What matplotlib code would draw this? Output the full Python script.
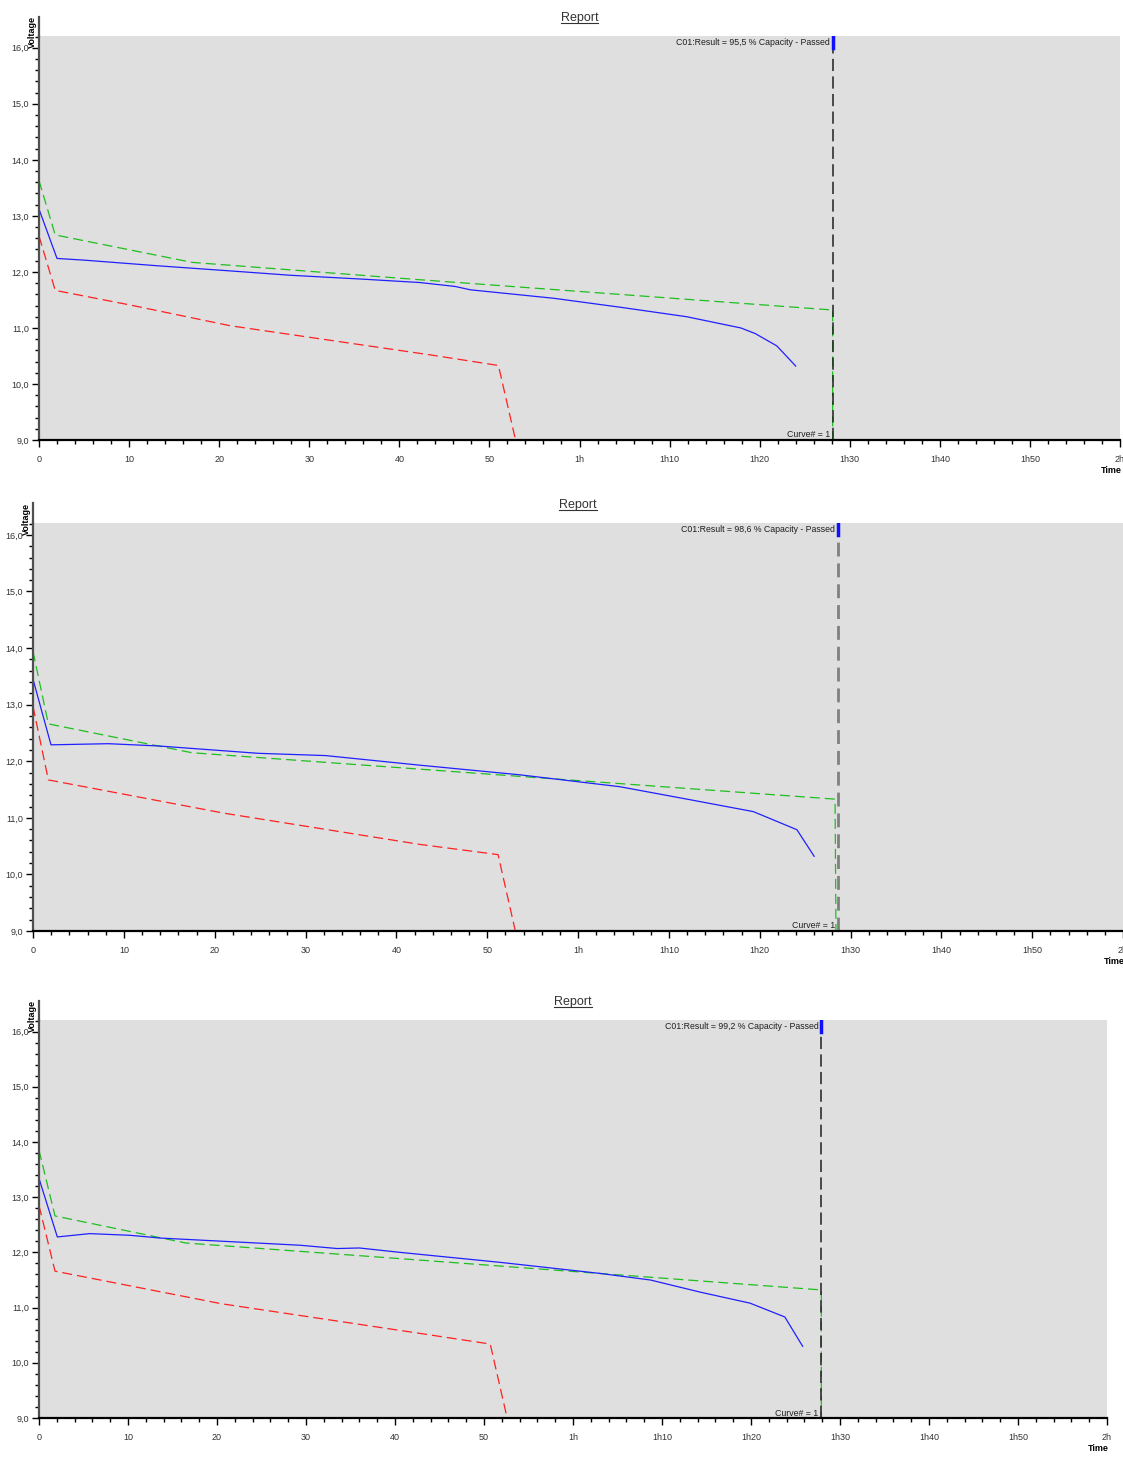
import numpy as np
import matplotlib
matplotlib.use("Agg")
import matplotlib.pyplot as plt
from matplotlib.lines import Line2D
from matplotlib.ticker import MultipleLocator, FuncFormatter

plt.rcParams['font.family'] = ['Liberation Sans', 'DejaVu Sans']

# panel 1
p1_t_blue = [0, 2.0, 5, 13.1, 21.9, 27.9, 36, 42.3, 46.2, 47.9, 57.1, 64.5, 71.9, 77.9, 79.5, 81.9, 84.0]
p1_v_blue = [13.12, 12.24, 12.21, 12.11, 12.01, 11.94, 11.87, 11.81, 11.74, 11.68, 11.53, 11.37, 11.20, 11.0, 10.90, 10.68, 10.32]
p1_t_green = [0, 1.8, 17, 42.3, 88.1, 88.1]
p1_v_green = [13.63, 12.66, 12.17, 11.86, 11.32, 9.0]
p1_t_red = [0, 1.8, 10.1, 21.2, 43.4, 51.0, 52.9]
p1_v_red = [12.64, 11.67, 11.41, 11.04, 10.52, 10.33, 9.0]
p1_end = 88.1
p1_result = "95,5"

# panel 2
p2_t_blue = [0, 1.98, 8.3, 13.8, 24.8, 32.2, 42.6, 53.6, 64.6, 72.0, 79.3, 84.1, 86.0]
p2_v_blue = [13.45, 12.29, 12.31, 12.27, 12.14, 12.10, 11.93, 11.76, 11.55, 11.33, 11.11, 10.79, 10.32]
p2_t_green = [0, 1.69, 17.5, 42.6, 88.3, 88.4]
p2_v_green = [13.94, 12.66, 12.15, 11.86, 11.33, 9.0]
p2_t_red = [0, 1.69, 21.1, 42.6, 51.2, 53.1]
p2_v_red = [12.97, 11.67, 11.08, 10.53, 10.35, 9.0]
p2_end = 88.6
p2_result = "98,6"

# panel 3
p3_t_blue = [0, 2.06, 5.7, 10.2, 13.6, 29.3, 33.5, 36, 40.6, 51.8, 63, 68.7, 74.3, 79.9, 83.8, 85.8]
p3_v_blue = [13.34, 12.28, 12.34, 12.31, 12.26, 12.13, 12.07, 12.08, 12.0, 11.82, 11.62, 11.5, 11.28, 11.08, 10.83, 10.3]
p3_t_green = [0, 1.8, 16.5, 42, 87.9, 87.9]
p3_v_green = [13.85, 12.66, 12.17, 11.87, 11.32, 9.0]
p3_t_red = [0, 1.8, 20.5, 42.5, 50.7, 52.6]
p3_v_red = [12.85, 11.66, 11.07, 10.54, 10.34, 9.0]
p3_end = 87.9
p3_result = "99,2"


def fmt_time(x, pos):
    m = int(round(x))
    h, mm = divmod(m, 60)
    if h == 0:
        return str(mm)
    if mm == 0:
        return "%dh" % h
    return "%dh%d" % (h, mm)


def panel(fig, rect, tb, vb, tg, vg, tr, vr, tend, result, vcol):
    ax = fig.add_axes(rect)
    ax.set_facecolor('#dfdfdf')
    ax.set_xlim(0, 120)
    ax.set_ylim(9.0, 16.21)
    ax.plot(tg, vg, color='#1fbf1f', lw=0.9, dashes=(8, 4))
    ax.plot(tr, vr, color='#ff2020', lw=0.9, dashes=(8, 4))
    ax.plot(tb, vb, color='#2020ff', lw=0.9)
    if vcol == 'gray':
        ax.axvline(tend, color='#808080', lw=2.0, dashes=(5, 2.5))
    else:
        ax.axvline(tend, color='#202020', lw=1.1, dashes=(8, 3.5))
    ax.axvline(tend, ymin=0.97, ymax=1.0, color='#1010ff', lw=2.5)
    ax.text(tend - 0.3, 16.09, "C01:Result = %s %% Capacity - Passed" % result,
            ha='right', va='center', fontsize=6.3, color='#202020')
    ax.text(tend - 0.3, 9.09, "Curve# = 1", ha='right', va='center',
            fontsize=6.3, color='#202020')

    for s in ['top', 'right']:
        ax.spines[s].set_visible(False)
    ax.spines['left'].set_color('#505050')
    ax.spines['left'].set_linewidth(1.6)
    ax.spines['bottom'].set_color('#000000')
    ax.spines['bottom'].set_linewidth(1.6)
    ax.plot([0, 0], [1.0, 1.048], transform=ax.transAxes, color='#505050',
            lw=1.6, clip_on=False)

    ax.xaxis.set_major_locator(MultipleLocator(10))
    ax.xaxis.set_minor_locator(MultipleLocator(2))
    ax.xaxis.set_major_formatter(FuncFormatter(fmt_time))
    ax.yaxis.set_major_locator(MultipleLocator(1))
    ax.yaxis.set_minor_locator(MultipleLocator(0.2))
    ax.yaxis.set_major_formatter(FuncFormatter(lambda y, p: ("%.1f" % y).replace('.', ',')))
    ax.tick_params(which='major', length=5, width=1, labelsize=6.5, colors='#000000',
                   labelcolor='#333333', pad=6)
    ax.tick_params(which='minor', length=3, width=1)
    ax.tick_params(axis='y', pad=2)

    ax.annotate('Voltage', xy=(0, 1), xycoords='axes fraction', xytext=(-4.5, 3),
                textcoords='offset points', rotation=90, ha='center', va='center',
                fontsize=6.5, fontweight='bold')
    ax.annotate('Time', xy=(1, 0), xycoords='axes fraction', xytext=(-6, -22),
                textcoords='offset points', ha='center', va='center',
                fontsize=6.5, fontweight='bold')
    title = ax.annotate('Report', xy=(0.5, 1), xycoords='axes fraction',
                        xytext=(0, 13), textcoords='offset points', ha='center',
                        va='center', fontsize=9, color='#333333')
    return ax, title


W, H = 1123, 1464
fig = plt.figure(figsize=(W / 100, H / 100), dpi=100)

titles = []
for rect, args in [
    ([39 / W, 1 - 440 / H, 1081 / W, 404 / H],
     (p1_t_blue, p1_v_blue, p1_t_green, p1_v_green, p1_t_red, p1_v_red, p1_end, p1_result, 'black')),
    ([33 / W, 1 - 931 / H, 1090 / W, 408 / H],
     (p2_t_blue, p2_v_blue, p2_t_green, p2_v_green, p2_t_red, p2_v_red, p2_end, p2_result, 'gray')),
    ([39 / W, 1 - 1418 / H, 1068 / W, 398 / H],
     (p3_t_blue, p3_v_blue, p3_t_green, p3_v_green, p3_t_red, p3_v_red, p3_end, p3_result, 'black')),
]:
    ax, t = panel(fig, rect, *args)
    titles.append(t)

# underline the titles
fig.canvas.draw()
r = fig.canvas.get_renderer()
for t in titles:
    bb = t.get_window_extent(r)
    yline = bb.y0 + 1
    fig.add_artist(Line2D([bb.x0 / W, bb.x1 / W], [yline / H, yline / H],
                          transform=fig.transFigure, color='#333333', lw=0.8))

fig.savefig("out.png", dpi=100)
